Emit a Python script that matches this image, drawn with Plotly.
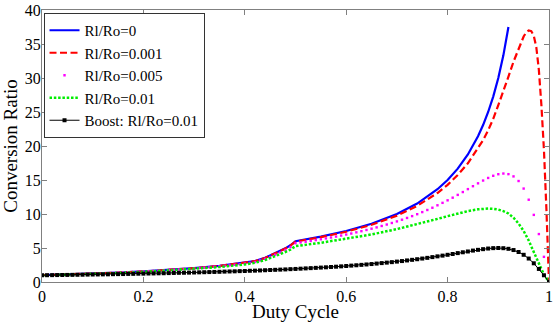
import numpy as np
import plotly.graph_objects as go

# Duty-cycle grid for the marker series (one marker every 0.01)
D_fine = np.round(np.arange(0, 1.0001, 0.01), 2)

# Rl/Ro = 0 (ideal)
D_blue = [0, 0.05, 0.1, 0.15, 0.2, 0.25, 0.3, 0.35, 0.4, 0.42, 0.44, 0.46, 0.47, 0.48, 0.49,
          0.5, 0.55, 0.6, 0.65, 0.7, 0.74, 0.78, 0.8, 0.82, 0.84, 0.86, 0.87, 0.88, 0.89, 0.9, 0.91, 0.92]
V_blue = [1.0, 1.10, 1.23, 1.38, 1.56, 1.78, 2.04, 2.37, 2.8, 3.08, 3.55, 4.2, 4.55, 4.95, 5.4,
          6.0, 6.67, 7.5, 8.57, 10.0, 11.54, 13.64, 15.0, 16.67, 18.75, 21.43, 23.08, 25.0, 27.27, 30.0, 33.33, 37.5]

# Rl/Ro = 0.001
D_red = [0, 0.05, 0.1, 0.15, 0.2, 0.25, 0.3, 0.35, 0.4, 0.42, 0.44, 0.46, 0.47, 0.48, 0.49,
         0.5, 0.55, 0.6, 0.65, 0.7, 0.74, 0.78, 0.8, 0.82, 0.84, 0.86, 0.87, 0.88, 0.89, 0.9, 0.91, 0.92,
         0.93, 0.94, 0.95, 0.955, 0.96, 0.965, 0.97, 0.975, 0.98, 0.985, 0.99, 0.995, 1.0]
V_red = [1.0, 1.10, 1.22, 1.37, 1.55, 1.77, 2.03, 2.36, 2.79, 3.06, 3.53, 4.17, 4.52, 4.92, 5.36,
         5.94, 6.59, 7.39, 8.41, 9.76, 11.19, 13.09, 14.29, 15.73, 17.45, 19.6, 20.85, 22.3, 24.0, 26.0, 28.0, 30.2,
         32.4, 34.4, 36.1, 36.7, 37.0, 36.9, 36.2, 34.5, 31.2, 26.0, 19.5, 10.5, 0.0]

# Rl/Ro = 0.005 (dots at every 0.01 of duty cycle)
V_mag = [0.98, 1.00, 1.02, 1.04, 1.06, 1.08, 1.11, 1.14, 1.16, 1.19,
         1.21, 1.24, 1.26, 1.29, 1.32, 1.35, 1.39, 1.42, 1.46, 1.49,
         1.53, 1.57, 1.60, 1.65, 1.69, 1.74, 1.79, 1.84, 1.88, 1.93,
         1.99, 2.05, 2.11, 2.17, 2.24, 2.31, 2.38, 2.45, 2.53, 2.62,
         2.70, 2.80, 2.94, 3.17, 3.40, 3.68, 4.01, 4.34, 4.71, 5.14,
         5.70, 5.81, 5.92, 6.04, 6.16, 6.28, 6.41, 6.54, 6.68, 6.83,
         6.98, 7.13, 7.30, 7.47, 7.65, 7.84, 8.03, 8.24, 8.45, 8.68,
         8.91, 9.16, 9.42, 9.69, 9.97, 10.28, 10.59, 10.92, 11.28, 11.64,
         12.01, 12.40, 12.81, 13.23, 13.66, 14.09, 14.51, 14.92, 15.30, 15.62,
         15.85, 15.95, 15.86, 15.53, 14.85, 13.74, 12.10, 9.87, 7.05, 3.70,
         0.00]

# Rl/Ro = 0.01
D_green = [0, 0.05, 0.1, 0.15, 0.2, 0.25, 0.3, 0.35, 0.4, 0.42, 0.44, 0.46, 0.47, 0.48, 0.49,
           0.5, 0.55, 0.6, 0.65, 0.7, 0.74, 0.78, 0.8, 0.82, 0.84, 0.86, 0.87, 0.88, 0.89, 0.9, 0.91, 0.92,
           0.93, 0.94, 0.95, 0.96, 0.97, 0.98, 0.99, 1.0]
V_green = [0.97, 1.06, 1.19, 1.32, 1.49, 1.69, 1.92, 2.20, 2.58, 2.82, 3.23, 3.78, 4.07, 4.41, 4.76,
           5.27, 5.77, 6.33, 6.99, 7.78, 8.49, 9.28, 9.68, 10.07, 10.42, 10.69, 10.77, 10.80, 10.76, 10.65, 10.42, 10.08,
           9.45, 8.6, 7.5, 6.1, 4.4, 2.7, 1.1, 0.0]

# Boost converter, Rl/Ro = 0.01 (markers at every 0.01)
V_boost = [0.99, 1.00, 1.01, 1.02, 1.03, 1.04, 1.05, 1.06, 1.07, 1.09,
           1.10, 1.11, 1.12, 1.13, 1.15, 1.16, 1.17, 1.19, 1.20, 1.22,
           1.23, 1.25, 1.26, 1.28, 1.29, 1.31, 1.33, 1.35, 1.36, 1.38,
           1.40, 1.42, 1.44, 1.46, 1.48, 1.50, 1.53, 1.55, 1.57, 1.60,
           1.62, 1.65, 1.67, 1.70, 1.73, 1.76, 1.79, 1.82, 1.85, 1.89,
           1.92, 1.96, 2.00, 2.04, 2.08, 2.12, 2.16, 2.21, 2.25, 2.30,
           2.35, 2.41, 2.46, 2.52, 2.58, 2.64, 2.71, 2.78, 2.85, 2.92,
           3.00, 3.08, 3.17, 3.26, 3.35, 3.45, 3.55, 3.66, 3.77, 3.88,
           4.00, 4.12, 4.25, 4.37, 4.49, 4.62, 4.73, 4.83, 4.92, 4.98,
           5.00, 4.97, 4.88, 4.70, 4.41, 4.00, 3.45, 2.75, 1.92, 0.99,
           0.00]

x_ticks = [0, 0.2, 0.4, 0.6, 0.8, 1]
x_ticktext = ["0", "0.2", "0.4", "0.6", "0.8", "1"]
y_ticks = [0, 5, 10, 15, 20, 25, 30, 35, 40]

FONT = "Liberation Serif, Times New Roman, serif"

fig = go.Figure()
fig.add_trace(go.Scatter(x=D_blue, y=V_blue, mode="lines", name="Rl/Ro=0",
                         line=dict(color="#0000ff", width=2.2)))
fig.add_trace(go.Scatter(x=D_red, y=V_red, mode="lines", name="Rl/Ro=0.001",
                         line=dict(color="#ff0000", width=2.2, dash="7px,3.5px")))
fig.add_trace(go.Scatter(x=D_fine, y=V_mag, mode="markers", name="Rl/Ro=0.005",
                         marker=dict(color="#ff00ff", size=2.4, symbol="square", line=dict(width=0))))
fig.add_trace(go.Scatter(x=D_green, y=V_green, mode="lines", name="Rl/Ro=0.01",
                         line=dict(color="#00ee00", width=2.5, dash="2.5px,1.8px")))
fig.add_trace(go.Scatter(x=D_fine, y=V_boost, mode="lines+markers", name="Boost: Rl/Ro=0.01",
                         line=dict(color="#000000", width=1),
                         marker=dict(color="#000000", size=4, symbol="square", line=dict(width=0))))

fig.update_layout(
    width=554, height=322,
    margin=dict(l=42, r=1, t=10, b=40),
    paper_bgcolor="white", plot_bgcolor="white",
    font=dict(family=FONT, size=16, color="black"),
    showlegend=True,
    legend=dict(x=0.003, y=0.989, xanchor="left", yanchor="top",
                bgcolor="white", bordercolor="#333333", borderwidth=1,
                font=dict(family=FONT, size=15), itemwidth=30,
                tracegroupgap=0),
)
fig.update_xaxes(range=[0, 1], tickvals=x_ticks, ticktext=x_ticktext,
                 ticks="inside", ticklen=5, tickcolor="#808080", tickwidth=1,
                 showline=True, linecolor="#808080", linewidth=1, mirror="ticks",
                 showgrid=False, zeroline=False, ticklabeloverflow="allow",
                 title=dict(text="Duty Cycle", standoff=2))
fig.update_yaxes(range=[0, 40], tickvals=y_ticks,
                 ticks="inside", ticklen=5, tickcolor="#808080", tickwidth=1,
                 showline=True, linecolor="#808080", linewidth=1, mirror="ticks",
                 showgrid=False, zeroline=False, ticklabelstandoff=-3,
                 title=dict(text="Conversion Ratio", standoff=4))

fig.write_html("out.html")
